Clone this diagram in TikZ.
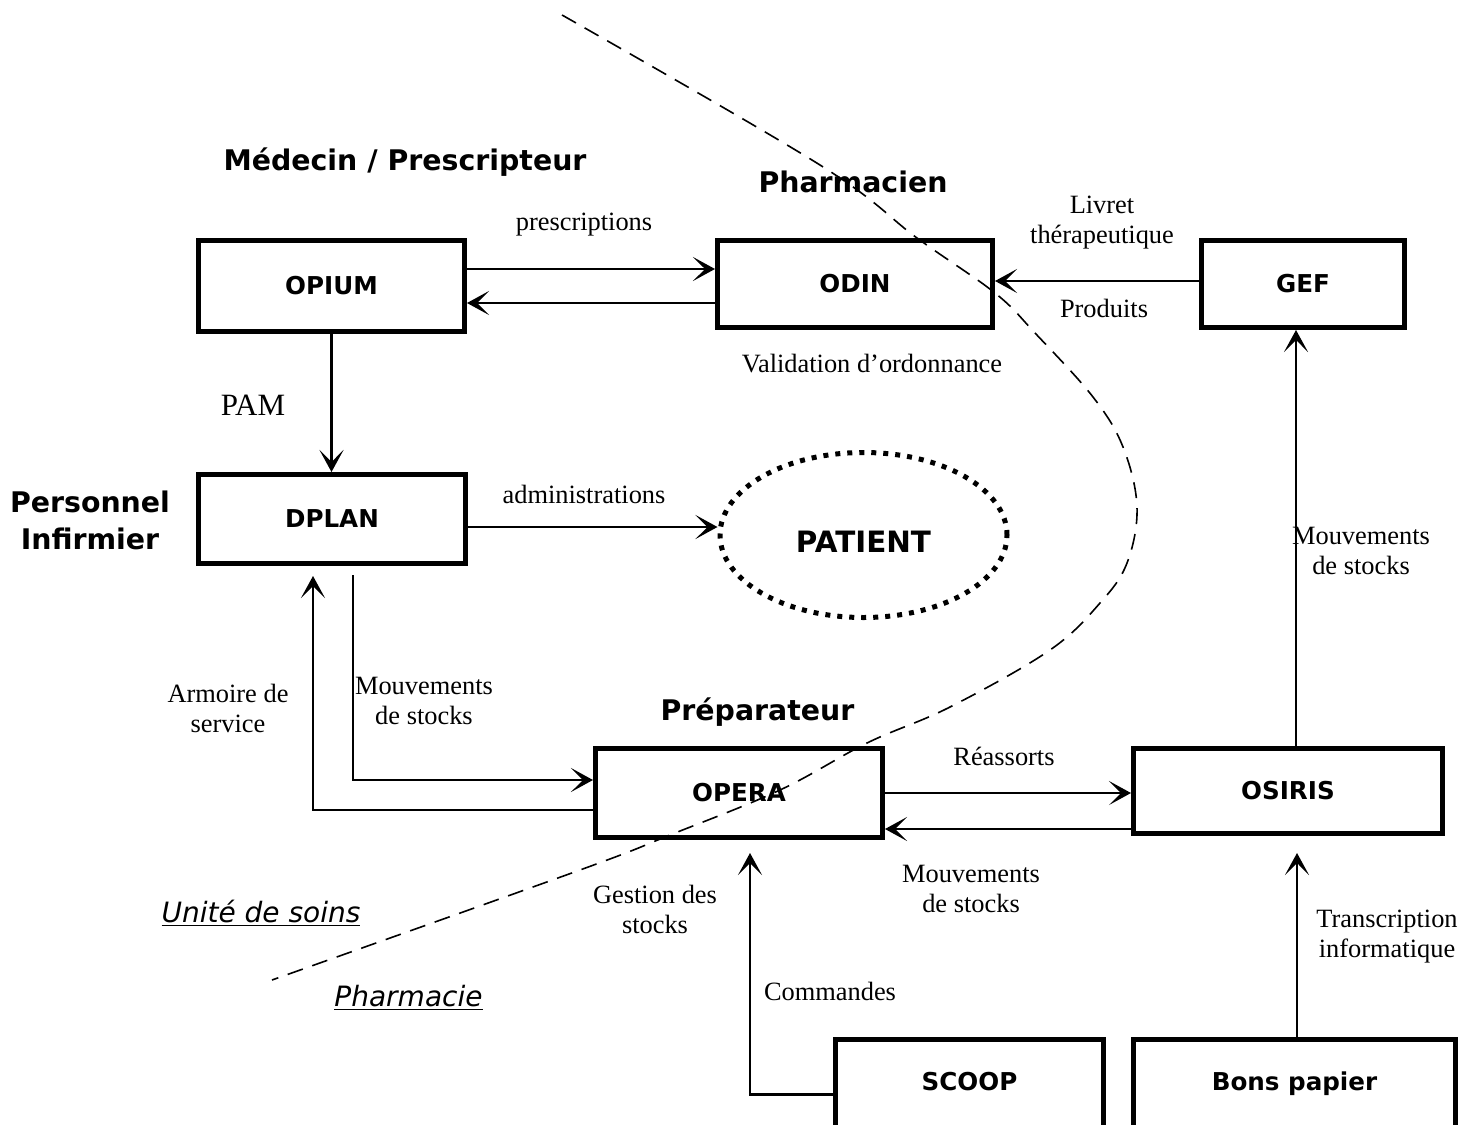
\documentclass[tikz,border=0pt]{standalone}
\usepackage{fontspec}
\setmainfont{Liberation Serif}
\newfontfamily\dvsans{DejaVu Sans}
\usetikzlibrary{arrows.meta,calc,shapes.geometric}
\begin{document}
\begin{tikzpicture}[x=0.5pt,y=-0.5pt,
  box/.style={draw, line width=2.5pt, rectangle, inner sep=0pt,
    font=\dvsans\bfseries\fontsize{12.3}{14}\selectfont},
  lowbox/.style={box, minimum height=60pt, text height=8.75pt, text depth=17.5pt},
  conn/.style={line width=1.1pt, -{Stealth[length=11pt,width=12pt,inset=6pt]}},
  lab/.style={font=\fontsize{13.2}{15}\selectfont, align=center, inner sep=0pt, anchor=base},
  head/.style={font=\dvsans\bfseries\fontsize{14.2}{18.5}\selectfont, align=center, inner sep=0pt, anchor=base},
  zone/.style={font=\dvsans\itshape\fontsize{14}{16}\selectfont, inner sep=0pt, anchor=base},
  divider/.style={line width=0.8pt, dash pattern=on 8pt off 5pt},
]
\useasboundingbox (0,0) rectangle (1477,1124);
\clip (0,0) rectangle (1477,1124);

% boxes
\node[box, minimum width=133pt, minimum height=45.5pt] (opium) at (331.5,286) {OPIUM};
\node[box, minimum width=137.5pt, minimum height=43.5pt] (odin) at (855,284) {ODIN};
\node[box, minimum width=101.5pt, minimum height=43.5pt] (gef) at (1303,284) {GEF};
\node[box, minimum width=133.5pt, minimum height=44.5pt] (dplan) at (332,519) {DPLAN};
\node[box, minimum width=143.5pt, minimum height=44.5pt] (opera) at (739,793) {OPERA};
\node[box, minimum width=154.5pt, minimum height=42.5pt] (osiris) at (1288,791) {OSIRIS};
\node[lowbox, minimum width=134pt] (scoop) at (969.5,1099.5) {SCOOP};
\node[lowbox, minimum width=161pt] (bons) at (1294.5,1099.5) {Bons papier};
\node[draw, ellipse, line width=2.5pt, dash pattern=on 2.5pt off 3.5pt, inner sep=0pt,
  minimum width=143.5pt, minimum height=82.5pt, text height=17.7pt, text depth=0pt,
  font=\dvsans\bfseries\fontsize{14.7}{16}\selectfont] (patient) at (863.5,535) {PATIENT};

% connectors
\draw[conn] ($(opium.east)+(0,-17)$) -- ($(odin.west)+(0,-15)$);
\draw[conn] ($(odin.west)+(0,19)$) -- ($(opium.east)+(0,17)$);
\draw[conn] ($(gef.west)+(0,-3)$) -- ($(odin.east)+(0,-3)$);
\draw[conn] (opium.south) -- (opium.south |- dplan.north);
\draw[conn] ($(dplan.east)+(0,8)$) -- ($(patient.west)+(0,-8)$);
\draw[conn] ($(opera.west)+(0,17)$) -| ($(dplan.south)+(-19,10)$);
\draw[conn] ($(dplan.south)+(21,9)$) |- ($(opera.west)+(0,-13)$);
\draw[conn] (opera.east) -- (opera.east -| osiris.west);
\draw[conn] ($(osiris.west)+(0,38)$) -- ($(opera.east)+(0,36)$);
\draw[conn] ($(osiris.north)+(8,0)$) -- ($(gef.south)+(-7,0)$);
\draw[conn] ($(scoop.west)+(0,-5)$) -| ($(opera.south)+(11,13)$);
\draw[conn] ($(bons.north)+(2.5,0)$) -- ($(osiris.south)+(9,17)$);

% connector labels
\node[lab] (lpresc) at (584,230) {prescriptions};
\node[lab] (llivret) at (1102,243) {Livret\\thérapeutique};
\node[lab] (lprod) at (1104,317) {Produits};
\node[lab] (lvalid) at (872,372) {Validation d’ordonnance};
\node[lab, font=\fontsize{15.5}{17}\selectfont] (lpam) at (253,415) {PAM};
\node[lab] (ladmin) at (584,503) {administrations};
\node[lab] (larmoire) at (228,732) {Armoire de\\service};
\node[lab] (lmvt1) at (424,724) {Mouvements\\de stocks};
\node[lab] (lreass) at (1004,765) {Réassorts};
\node[lab] (lmvt2) at (971,912) {Mouvements\\de stocks};
\node[lab] (lgest) at (655,933) {Gestion des\\stocks};
\node[lab] (lcmd) at (830,1000) {Commandes};
\node[lab] (ltrans) at (1387,957) {Transcription\\informatique};
\node[lab] (lmvt3) at (1361,574) {Mouvements\\de stocks};

% headings
\node[head] (hmed) at (405,170) {Médecin / Prescripteur};
\node[head] (hpharm) at (853,192) {Pharmacien};
\node[head] (hinf) at (90,549) {Personnel\\Infirmier};
\node[head] (hprep) at (757.5,720) {Préparateur};

% zones
\node[zone] (zus) at (261,922) {\underline{Unité de soins}};
\node[zone] (zph) at (408.5,1006) {\underline{Pharmacie}};

% divider
\draw[divider] plot[smooth, tension=0.6] coordinates {(562,15) (820,165) (917,238) (995,293) (1035,333) (1093,397) (1123,447) (1137,507) (1127,563) (1100,603) (1050,650) (950,707) (867,743) (780,790) (670,835) (580,870) (272,980)};
\end{tikzpicture}
\end{document}
